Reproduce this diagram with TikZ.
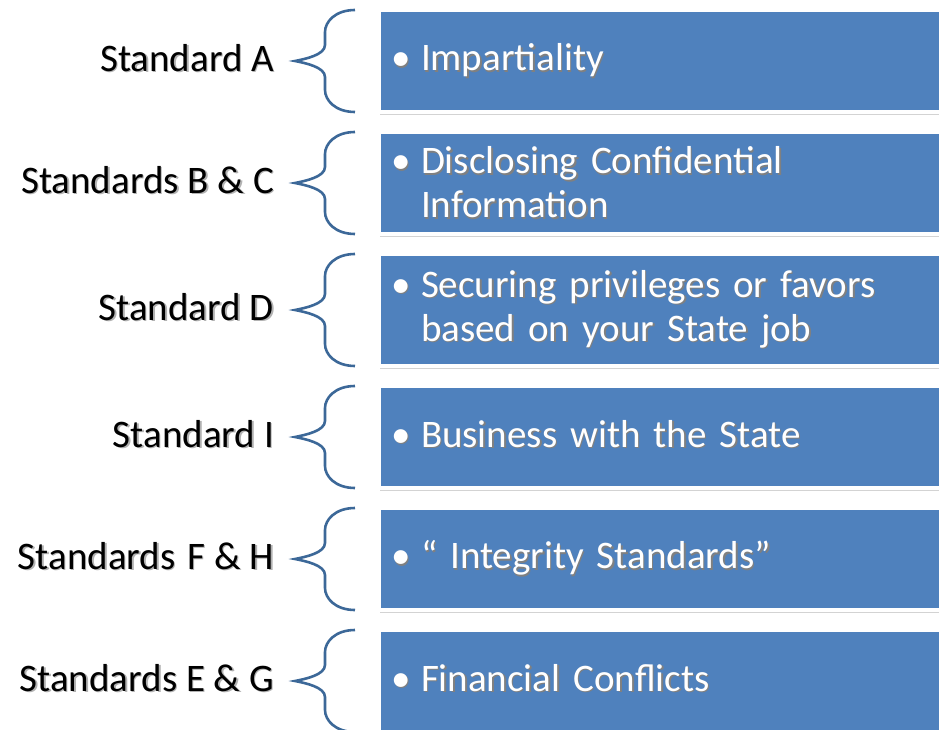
\documentclass[tikz,border=0pt]{standalone}
\usepackage{fontspec}
\setmainfont{Carlito}
\usetikzlibrary{positioning,shadows}

\definecolor{boxblue}{RGB}{79,129,189}
\definecolor{bracecol}{RGB}{60,104,152}

% text with a small offset shadow
\newcommand\shd[2]{\rlap{\hspace*{1.5pt}\raisebox{-1.5pt}{\color{#1}#2}}#2}
\newcommand\itm[1]{\vphantom{y}\makebox[30pt][l]{\shd{black!50}{\textbullet}}\shd{black!50}{#1}}
\newcommand\cnt[1]{\hspace*{30pt}\shd{black!50}{#1}}
\newcommand\lab[1]{\vphantom{Ay}\shd{black!30}{#1}}

\begin{document}
\begin{tikzpicture}[x=1pt,y=-1pt,node distance=20pt,
    font=\fontsize{39}{44}\selectfont,
    topic/.style={rectangle,fill=boxblue,draw=white,line width=4pt,outer sep=0pt,
      inner xsep=12pt,inner ysep=0pt,text width=560pt,align=left,text=white,
      minimum height=102pt,
      drop shadow={shadow xshift=0.5pt,shadow yshift=-3pt,opacity=.35}},
    std/.style={inner sep=0pt,outer sep=0pt,text=black},
    brc/.style={draw=bracecol,line width=2.6pt}]
  \useasboundingbox (0,0) rectangle (939,730);
  \clip (0,0) rectangle (939,730);

  \node[topic,anchor=north west] (b1) at (379,10) {\itm{Impartiality}};
  \node[topic,below=of b1] (b2) {\itm{Disclosing Confidential}\\\cnt{Information}};
  \node[topic,below=of b2,minimum height=112pt] (b3) {\itm{Securing privileges or favors}\\\cnt{based on your State job}};
  \node[topic,below=of b3] (b4) {\itm{Business with the State}};
  \node[topic,below=of b4] (b5) {\itm{“ Integrity Standards”}};
  \node[topic,below=of b5] (b6) {\itm{Financial Conflicts}};

  \node[std,left=105pt of b1] (s1) {\lab{Standard A}};
  \node[std,left=105pt of b2] (s2) {\lab{Standards B \& C}};
  \node[std,left=105pt of b3] (s3) {\lab{Standard D}};
  \node[std,left=105pt of b4] (s4) {\lab{Standard I}};
  \node[std,left=105pt of b5] (s5) {\lab{Standards\hspace{12pt}F \& H}};
  \node[std,left=105pt of b6] (s6) {\lab{Standards E \& G}};

  % curly braces in front of the boxes
  \foreach \b in {b1,b2,b3,b4,b5,b6}{
    \draw[brc] ([xshift=-24pt]\b.north west)
        .. controls +(-20pt,0) and +(0,10pt) .. ([xshift=-54pt,yshift=-22pt]\b.north west)
        -- ([xshift=-54pt,yshift=16pt]\b.west)
        .. controls +(0,-10pt) and +(10pt,2pt) .. ([xshift=-84pt]\b.west)
        .. controls +(10pt,-2pt) and +(0,10pt) .. ([xshift=-54pt,yshift=-16pt]\b.west)
        -- ([xshift=-54pt,yshift=22pt]\b.south west)
        .. controls +(0,-10pt) and +(-20pt,0) .. ([xshift=-24pt]\b.south west);
  }
\end{tikzpicture}
\end{document}
